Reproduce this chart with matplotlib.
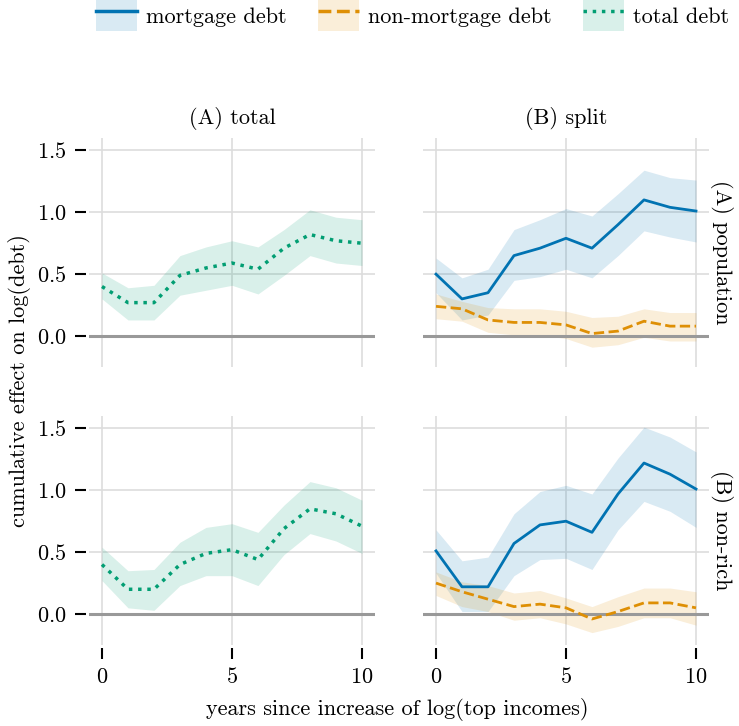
import matplotlib
matplotlib.use("Agg")
import matplotlib.pyplot as plt
from matplotlib.patches import Patch
from matplotlib.lines import Line2D
from matplotlib.legend_handler import HandlerTuple
import numpy as np

plt.rcParams['font.family'] = 'serif'
plt.rcParams['font.serif'] = ['cmr10']
plt.rcParams['mathtext.fontset'] = 'cm'
plt.rcParams['axes.formatter.use_mathtext'] = True
plt.rcParams['font.size'] = 16

years = np.arange(0, 11)

# (A) population
pop_total = [0.40, 0.27, 0.27, 0.49, 0.55, 0.59, 0.54, 0.71, 0.82, 0.77, 0.75]
pop_total_hi = [0.51, 0.39, 0.41, 0.65, 0.72, 0.77, 0.72, 0.86, 1.02, 0.96, 0.94]
pop_total_lo = [0.30, 0.13, 0.13, 0.33, 0.37, 0.41, 0.34, 0.49, 0.65, 0.59, 0.57]

pop_mort = [0.50, 0.30, 0.35, 0.65, 0.71, 0.79, 0.71, 0.90, 1.10, 1.04, 1.01]
pop_mort_hi = [0.63, 0.47, 0.54, 0.86, 0.94, 1.03, 0.97, 1.15, 1.34, 1.28, 1.26]
pop_mort_lo = [0.35, 0.13, 0.17, 0.45, 0.48, 0.54, 0.47, 0.65, 0.85, 0.80, 0.76]

pop_nonmort = [0.24, 0.22, 0.13, 0.11, 0.11, 0.09, 0.02, 0.04, 0.12, 0.08, 0.08]
pop_nonmort_hi = [0.34, 0.28, 0.23, 0.22, 0.22, 0.20, 0.15, 0.16, 0.22, 0.19, 0.19]
pop_nonmort_lo = [0.14, 0.12, 0.03, 0.01, 0.01, -0.02, -0.09, -0.07, -0.01, -0.04, -0.04]

# (B) non-rich
nr_total = [0.40, 0.20, 0.20, 0.40, 0.49, 0.52, 0.44, 0.69, 0.85, 0.81, 0.71]
nr_total_hi = [0.54, 0.35, 0.36, 0.58, 0.70, 0.73, 0.66, 0.88, 1.07, 1.02, 0.92]
nr_total_lo = [0.27, 0.05, 0.03, 0.23, 0.31, 0.31, 0.23, 0.48, 0.65, 0.59, 0.49]

nr_mort = [0.51, 0.22, 0.22, 0.57, 0.72, 0.75, 0.66, 0.97, 1.22, 1.13, 1.01]
nr_mort_hi = [0.68, 0.43, 0.46, 0.81, 0.99, 1.04, 0.97, 1.26, 1.51, 1.43, 1.31]
nr_mort_lo = [0.33, 0.02, 0.02, 0.31, 0.44, 0.45, 0.36, 0.68, 0.91, 0.83, 0.70]

nr_nonmort = [0.25, 0.18, 0.12, 0.06, 0.08, 0.05, -0.04, 0.02, 0.09, 0.09, 0.05]
nr_nonmort_hi = [0.34, 0.26, 0.23, 0.17, 0.19, 0.13, 0.06, 0.14, 0.21, 0.21, 0.18]
nr_nonmort_lo = [0.15, 0.06, 0.02, -0.05, -0.03, -0.08, -0.15, -0.10, -0.03, -0.03, -0.09]

col_titles = ['(A) total', '(B) split']
row_titles = ['(A) population', '(B) non-rich']

blue = '#0173b2'
orange = '#de8f05'
green = '#029e73'

fig = plt.figure(figsize=(7.39, 7.26), dpi=100)
lefts = [0.1204, 0.5724]
width = 0.387
bottoms = [0.4945, 0.1116]
height = 0.3154

rows = [
    dict(total=(pop_total, pop_total_lo, pop_total_hi),
         mort=(pop_mort, pop_mort_lo, pop_mort_hi),
         nonmort=(pop_nonmort, pop_nonmort_lo, pop_nonmort_hi)),
    dict(total=(nr_total, nr_total_lo, nr_total_hi),
         mort=(nr_mort, nr_mort_lo, nr_mort_hi),
         nonmort=(nr_nonmort, nr_nonmort_lo, nr_nonmort_hi)),
]

for r in range(2):
    for c in range(2):
        ax = fig.add_axes([lefts[c], bottoms[r], width, height])
        d = rows[r]
        ax.axhline(0, color='#999999', lw=2.2, zorder=1.5)
        if c == 0:
            y, lo, hi = d['total']
            ax.fill_between(years, lo, hi, color=green, alpha=0.15, lw=0)
            ax.plot(years, y, color=green, ls=':', lw=2.5)
        else:
            y, lo, hi = d['mort']
            ax.fill_between(years, lo, hi, color=blue, alpha=0.15, lw=0)
            ax.plot(years, y, color=blue, ls='-', lw=2)
            y, lo, hi = d['nonmort']
            ax.fill_between(years, lo, hi, color=orange, alpha=0.15, lw=0)
            ax.plot(years, y, color=orange, ls='--', lw=2)

        ax.set_xlim(-0.5, 10.5)
        ax.set_ylim(-0.25, 1.6)
        ax.set_xticks([0, 5, 10])
        ax.set_yticks([0.0, 0.5, 1.0, 1.5])
        ax.grid(True, color='#dddddd', lw=1.2)
        ax.set_axisbelow(True)
        for s in ax.spines.values():
            s.set_visible(False)
        ax.spines['left'].set_position(('outward', 2))
        ax.spines['bottom'].set_position(('outward', 2))
        ax.tick_params(length=8, width=1.5, color='black', labelsize=16, pad=6)
        if c == 1:
            ax.tick_params(axis='y', left=False, labelleft=False)
        if r == 0:
            ax.tick_params(axis='x', bottom=False, labelbottom=False)
            ax.set_title(col_titles[c], fontsize=16, pad=10)
        if c == 1:
            ax.yaxis.set_label_position('right')
            ax.set_ylabel(row_titles[r], rotation=-90, labelpad=17, fontsize=16)

fig.text(0.027, 0.476, 'cumulative effect on log(debt)', rotation=90,
         ha='center', va='center', fontsize=16)
fig.text(0.537, 0.023, 'years since increase of log(top incomes)',
         ha='center', va='center', fontsize=16)

# legend: shaded band with the line drawn over it
handles = [
    (Patch(facecolor=blue, alpha=0.15, lw=0), Line2D([], [], color=blue, lw=2.5)),
    (Patch(facecolor=orange, alpha=0.15, lw=0), Line2D([], [], color=orange, lw=2.5, ls='--')),
    (Patch(facecolor=green, alpha=0.15, lw=0), Line2D([], [], color=green, lw=2.5, ls=':')),
]
labels = ['mortgage debt', 'non-mortgage debt', 'total debt']
fig.legend(handles, labels, handler_map={tuple: HandlerTuple(ndivide=1, pad=0)},
           loc='upper left', bbox_to_anchor=(0.130, 1.0), ncol=3, frameon=False,
           borderpad=0, borderaxespad=0, handlelength=1.85, handleheight=1.8,
           handletextpad=0.4, columnspacing=1.4, fontsize=16)

fig.savefig('out.png', dpi=100)
